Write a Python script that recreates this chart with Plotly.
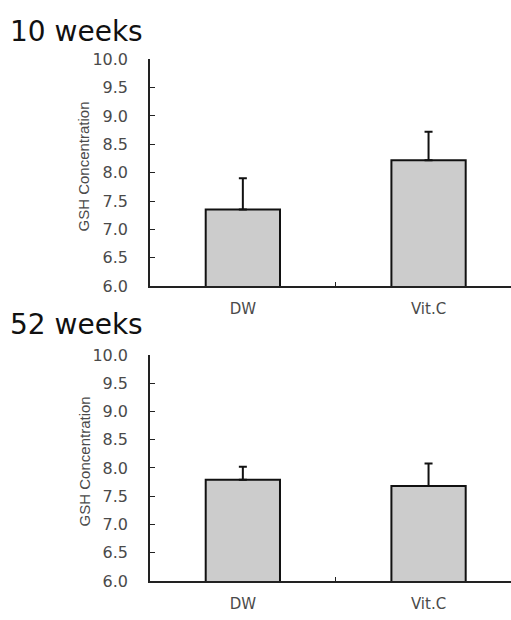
import plotly.graph_objects as go

categories = ["DW", "Vit.C"]
week10_values = [7.35, 8.22]
week10_errors = [0.55, 0.50]
week52_values = [7.79, 7.68]
week52_errors = [0.23, 0.40]
panel_titles = ["10 weeks", "52 weeks"]
y_tick_vals = [6.0, 6.5, 7.0, 7.5, 8.0, 8.5, 9.0, 9.5, 10.0]
y_tick_text = ["6.0", "6.5", "7.0", "7.5", "8.0", "8.5", "9.0", "9.5", "10.0"]

W, H = 511, 620
FONT = "DejaVu Sans"
LABEL_COLOR = "#4a4a4a"
AXIS_COLOR = "#222222"

def py(px):
    return 1 - px / H

fig = go.Figure()

for i, (vals, errs) in enumerate([(week10_values, week10_errors), (week52_values, week52_errors)]):
    suffix = "" if i == 0 else "2"
    fig.add_trace(go.Bar(
        x=categories, y=vals, width=0.4,
        marker=dict(color="#cccccc", line=dict(color="#111111", width=2)),
        error_y=dict(type="data", symmetric=False, array=errs, arrayminus=[0] * len(errs),
                     color="#111111", thickness=2, width=4),
        xaxis="x" + suffix, yaxis="y" + suffix, showlegend=False,
    ))

axis_common_x = dict(
    type="category", range=[-0.5, 1.444], showline=True, linecolor=AXIS_COLOR, linewidth=1.5,
    ticks="inside", tickson="boundaries", ticklen=4, tickcolor=AXIS_COLOR, tickwidth=1,
    showgrid=False, zeroline=False, ticklabelstandoff=8,
    tickfont=dict(family=FONT, size=15, color=LABEL_COLOR),
    domain=[150 / W, 1],
)
axis_common_y = dict(
    range=[6, 10], showline=True, linecolor=AXIS_COLOR, linewidth=1.5,
    ticks="inside", ticklen=5, tickcolor=AXIS_COLOR, tickwidth=1,
    tickvals=y_tick_vals, ticktext=y_tick_text, showgrid=False, zeroline=False,
    ticklabelstandoff=17, tickfont=dict(family=FONT, size=16, color=LABEL_COLOR),
)

fig.update_layout(
    width=W, height=H, margin=dict(l=0, r=0, t=0, b=0),
    paper_bgcolor="white", plot_bgcolor="white",
    xaxis=dict(axis_common_x, anchor="y"),
    yaxis=dict(axis_common_y, anchor="x", domain=[py(286), py(51.7)]),
    xaxis2=dict(axis_common_x, anchor="y2"),
    yaxis2=dict(axis_common_y, anchor="x2", domain=[py(590), py(357)]),
    bargap=0.6,
)

title_y = [23, 325]
ylabel_y = [162.5, 466.7]
for t, ty, ly in zip(panel_titles, title_y, ylabel_y):
    fig.add_annotation(text=t, xref="paper", yref="paper", x=8 / W, y=py(ty),
                       xanchor="left", yanchor="middle", showarrow=False,
                       font=dict(family=FONT, size=28, color="#111111"))
    fig.add_annotation(text="GSH Concentration", xref="paper", yref="paper", x=84 / W, y=py(ly),
                       xanchor="center", yanchor="middle", showarrow=False, textangle=-90,
                       font=dict(family="Liberation Sans", size=15, color=LABEL_COLOR))

fig.write_html("out.html")
